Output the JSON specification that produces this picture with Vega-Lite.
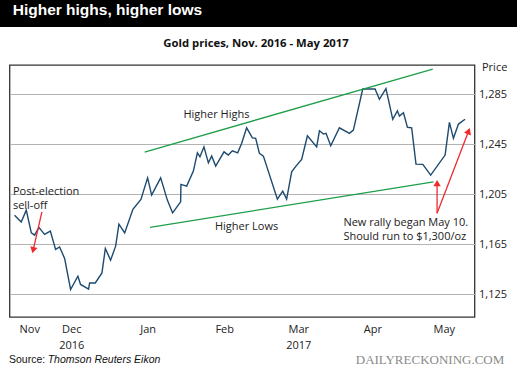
{
  "$schema": "https://vega.github.io/schema/vega-lite/v6.json",
  "padding": 0,
  "background": "white",
  "spacing": 10,
  "center": true,
  "config": {"font": "Open Sans"},
  "datasets": {
    "gold": [
      {"date": "2016-11-08T01:00", "price": 1188.2},
      {"date": "2016-11-10T18:00", "price": 1182.8},
      {"date": "2016-11-12T19:00", "price": 1192.2},
      {"date": "2016-11-14T20:00", "price": 1174.0},
      {"date": "2016-11-16T04:00", "price": 1172.2},
      {"date": "2016-11-17T22:00", "price": 1178.4},
      {"date": "2016-11-20T05:00", "price": 1172.8},
      {"date": "2016-11-22T13:00", "price": 1175.4},
      {"date": "2016-11-24T16:00", "price": 1160.8},
      {"date": "2016-11-26T07:00", "price": 1162.8},
      {"date": "2016-11-28T08:00", "price": 1153.6},
      {"date": "2016-11-30T18:00", "price": 1128.8},
      {"date": "2016-12-03T17:00", "price": 1139.4},
      {"date": "2016-12-04T19:00", "price": 1132.8},
      {"date": "2016-12-08T01:00", "price": 1129.0},
      {"date": "2016-12-08T11:00", "price": 1134.0},
      {"date": "2016-12-10T18:00", "price": 1134.0},
      {"date": "2016-12-13T11:00", "price": 1142.0},
      {"date": "2016-12-14T20:00", "price": 1161.6},
      {"date": "2016-12-16T23:00", "price": 1152.2},
      {"date": "2016-12-19T00:00", "price": 1163.4},
      {"date": "2016-12-20T08:00", "price": 1181.0},
      {"date": "2016-12-22T16:00", "price": 1174.0},
      {"date": "2016-12-26T00:00", "price": 1192.8},
      {"date": "2016-12-29T06:00", "price": 1200.8},
      {"date": "2016-12-31T23:00", "price": 1218.0},
      {"date": "2017-01-02T14:00", "price": 1204.2},
      {"date": "2017-01-06T06:00", "price": 1218.0},
      {"date": "2017-01-08T23:00", "price": 1200.2},
      {"date": "2017-01-11T02:00", "price": 1190.0},
      {"date": "2017-01-14T08:00", "price": 1198.8},
      {"date": "2017-01-14T11:00", "price": 1212.8},
      {"date": "2017-01-16T19:00", "price": 1211.4},
      {"date": "2017-01-19T12:00", "price": 1223.4},
      {"date": "2017-01-21T03:00", "price": 1238.0},
      {"date": "2017-01-22T04:00", "price": 1234.8},
      {"date": "2017-01-23T19:00", "price": 1242.8},
      {"date": "2017-01-25T14:00", "price": 1230.0},
      {"date": "2017-01-26T22:00", "price": 1235.4},
      {"date": "2017-01-28T13:00", "price": 1227.4},
      {"date": "2017-01-31T22:00", "price": 1238.8},
      {"date": "2017-02-02T16:00", "price": 1236.2},
      {"date": "2017-02-04T07:00", "price": 1239.6},
      {"date": "2017-02-06T11:00", "price": 1238.0},
      {"date": "2017-02-08T02:00", "price": 1245.6},
      {"date": "2017-02-10T02:00", "price": 1258.0},
      {"date": "2017-02-12T10:00", "price": 1250.0},
      {"date": "2017-02-13T18:00", "price": 1249.6},
      {"date": "2017-02-15T06:00", "price": 1237.6},
      {"date": "2017-02-16T21:00", "price": 1235.4},
      {"date": "2017-02-22T13:00", "price": 1201.0},
      {"date": "2017-02-24T17:00", "price": 1207.4},
      {"date": "2017-02-26T07:00", "price": 1201.0},
      {"date": "2017-02-28T08:00", "price": 1222.8},
      {"date": "2017-03-02T02:00", "price": 1227.4},
      {"date": "2017-03-04T09:00", "price": 1232.8},
      {"date": "2017-03-06T17:00", "price": 1251.6},
      {"date": "2017-03-10T11:00", "price": 1242.8},
      {"date": "2017-03-11T14:00", "price": 1255.6},
      {"date": "2017-03-13T05:00", "price": 1253.0},
      {"date": "2017-03-14T06:00", "price": 1253.6},
      {"date": "2017-03-16T04:00", "price": 1243.6},
      {"date": "2017-03-19T16:00", "price": 1258.0},
      {"date": "2017-03-23T18:00", "price": 1253.6},
      {"date": "2017-03-25T08:00", "price": 1256.2},
      {"date": "2017-03-29T03:00", "price": 1289.0},
      {"date": "2017-04-03T03:00", "price": 1289.0},
      {"date": "2017-04-04T21:00", "price": 1280.8},
      {"date": "2017-04-07T13:00", "price": 1289.4},
      {"date": "2017-04-10T07:00", "price": 1264.8},
      {"date": "2017-04-12T04:00", "price": 1271.6},
      {"date": "2017-04-13T00:00", "price": 1267.4},
      {"date": "2017-04-14T15:00", "price": 1270.0},
      {"date": "2017-04-16T06:00", "price": 1258.4},
      {"date": "2017-04-17T23:00", "price": 1258.0},
      {"date": "2017-04-19T17:00", "price": 1229.0},
      {"date": "2017-04-22T11:00", "price": 1228.8},
      {"date": "2017-04-25T16:00", "price": 1220.2},
      {"date": "2017-05-01T12:00", "price": 1236.2},
      {"date": "2017-05-03T06:00", "price": 1262.4},
      {"date": "2017-05-04T21:00", "price": 1249.6},
      {"date": "2017-05-06T22:00", "price": 1261.0},
      {"date": "2017-05-09T14:00", "price": 1264.8}
    ],
    "trends": [
      {"grp": "highs", "date": "2016-12-30T18:00", "price": 1238.6},
      {"grp": "highs", "date": "2017-04-26T12:00", "price": 1305.0},
      {"grp": "lows", "date": "2017-01-01T22:00", "price": 1178.4},
      {"grp": "lows", "date": "2017-04-26T19:00", "price": 1214.8}
    ],
    "shafts": [
      {"date": "2016-11-19T03:00", "price": 1190.8, "date2": "2016-11-15T14:00", "price2": 1160.2},
      {"date": "2017-04-28T06:00", "price": 1189.8, "date2": "2017-04-28T06:00", "price2": 1213.8},
      {"date": "2017-04-28T06:00", "price": 1189.8, "date2": "2017-05-11T01:00", "price2": 1255.4}
    ],
    "heads": [
      {"head": "a", "date": "2016-11-15T14:00", "price": 1160.2},
      {"head": "b", "date": "2017-04-28T06:00", "price": 1213.8},
      {"head": "c", "date": "2017-05-11T01:00", "price": 1255.4}
    ],
    "notes": [
      {"date": "2017-01-15T11:00", "price": 1265.6, "label": "Higher Highs"},
      {"date": "2017-01-28T06:00", "price": 1176.2, "label": "Higher Lows"},
      {"date": "2016-11-07T09:00", "price": 1204.2, "label": "Post-election\nsell-off"},
      {"date": "2017-03-21T07:00", "price": 1179.4, "label": "New rally began May 10.\nShould run to $1,300/oz"}
    ]
  },
  "vconcat": [
    {
      "width": 517,
      "height": 27,
      "view": {"fill": "black", "stroke": null},
      "data": {"values": [{"headline": "Higher highs, higher lows"}]},
      "mark": {"type": "text", "align": "left", "baseline": "alphabetic", "dx": -245.8, "dy": 1.5, "font": "Liberation Sans", "fontWeight": "bold", "fontSize": 15.5, "color": "white"},
      "encoding": {"text": {"field": "headline"}}
    },
    {
      "spacing": 2.5,
      "center": true,
      "vconcat": [
        {
          "width": 465,
          "height": 252,
          "title": {"text": "Gold prices, Nov. 2016 - May 2017", "font": "Open Sans", "fontSize": 11.3, "fontWeight": "bold", "color": "#111", "offset": 12, "dx": 14},
          "view": {"stroke": "#333", "strokeWidth": 1.3},
          "encoding": {
            "x": {
              "field": "date", "type": "temporal",
              "scale": {"domain": [{"year": 2016, "month": 11, "date": 6}, {"year": 2017, "month": 5, "date": 13, "hours": 10}]},
              "axis": {
                "title": null,
                "values": [{"year": 2016, "month": 11, "date": 14}, {"year": 2016, "month": 12, "date": 1}, {"year": 2017, "month": 1, "date": 1}, {"year": 2017, "month": 2, "date": 1}, {"year": 2017, "month": 3, "date": 3}, {"year": 2017, "month": 4, "date": 2}, {"year": 2017, "month": 5, "date": 1}],
                "labelExpr": "month(datum.value) == 11 ? ['Dec', '2016'] : month(datum.value) == 2 ? ['Mar', '2017'] : timeFormat(datum.value, '%b')",
                "ticks": false, "domain": false, "grid": false,
                "labelFont": "Open Sans", "labelFontSize": 11, "labelColor": "#222",
                "labelPadding": 6, "labelLineHeight": 16, "labelBaseline": "top", "labelFlush": false, "labelOverlap": false
              }
            },
            "y": {
              "field": "price", "type": "quantitative",
              "scale": {"domain": [1106.8, 1308.2], "zero": false, "nice": false},
              "axis": {
                "orient": "right",
                "values": [1125, 1165, 1205, 1245, 1285],
                "format": ",d",
                "ticks": false, "domain": false, "grid": true,
                "gridColor": "#b3b3b3", "gridWidth": 1,
                "labelFont": "Open Sans", "labelFontSize": 11, "labelColor": "#222", "labelPadding": 4,
                "title": "Price ", "titleAngle": 0, "titleX": 7, "titleY": 5, "titleAlign": "left", "titleBaseline": "alphabetic",
                "titleFont": "Open Sans", "titleFontSize": 11, "titleFontWeight": "normal", "titleColor": "#222"
              }
            }
          },
          "layer": [
            {
              "data": {"name": "gold"},
              "mark": {"type": "line", "color": "#1d4a6f", "strokeWidth": 1.4}
            },
            {
              "data": {"name": "trends"},
              "mark": {"type": "line", "color": "#1f9e4a", "strokeWidth": 1.3},
              "encoding": {"detail": {"field": "grp"}}
            },
            {
              "data": {"name": "shafts"},
              "mark": {"type": "rule", "color": "#ee2b2f", "strokeWidth": 1.3},
              "encoding": {"x2": {"field": "date2"}, "y2": {"field": "price2"}}
            },
            {
              "data": {"name": "heads"},
              "transform": [{"filter": "datum.head == 'a'"}],
              "mark": {"type": "point", "shape": "triangle-down", "angle": 13, "size": 55, "filled": true, "color": "#ee2b2f", "opacity": 1}
            },
            {
              "data": {"name": "heads"},
              "transform": [{"filter": "datum.head == 'b'"}],
              "mark": {"type": "point", "shape": "triangle-up", "angle": 0, "size": 55, "filled": true, "color": "#ee2b2f", "opacity": 1}
            },
            {
              "data": {"name": "heads"},
              "transform": [{"filter": "datum.head == 'c'"}],
              "mark": {"type": "point", "shape": "triangle-up", "angle": 21, "size": 55, "filled": true, "color": "#ee2b2f", "opacity": 1}
            },
            {
              "data": {"name": "notes"},
              "mark": {"type": "text", "align": "left", "baseline": "alphabetic", "lineBreak": "\n", "lineHeight": 14.3, "font": "Open Sans", "fontSize": 11, "color": "#222"},
              "encoding": {"text": {"field": "label"}}
            }
          ]
        },
        {
          "width": 517,
          "height": 12,
          "view": {"stroke": null},
          "layer": [
            {
              "data": {"values": [{"t": "Source:"}]},
              "mark": {"type": "text", "align": "left", "baseline": "alphabetic", "dx": -249.5, "dy": -7, "font": "Liberation Sans", "fontSize": 10.5, "color": "#111"},
              "encoding": {"text": {"field": "t"}}
            },
            {
              "data": {"values": [{"t": "Thomson Reuters Eikon"}]},
              "mark": {"type": "text", "align": "left", "baseline": "alphabetic", "dx": -210.8, "dy": -7, "font": "Liberation Sans", "fontStyle": "italic", "fontSize": 10.5, "color": "#111"},
              "encoding": {"text": {"field": "t"}}
            },
            {
              "data": {"values": [{"t": "DAILYRECKONING.COM"}]},
              "mark": {"type": "text", "align": "right", "baseline": "alphabetic", "dx": 245.8, "dy": -5.5, "font": "Liberation Serif", "fontSize": 13, "color": "#8a8a8a"},
              "encoding": {"text": {"field": "t"}}
            }
          ]
        }
      ]
    }
  ]
}
